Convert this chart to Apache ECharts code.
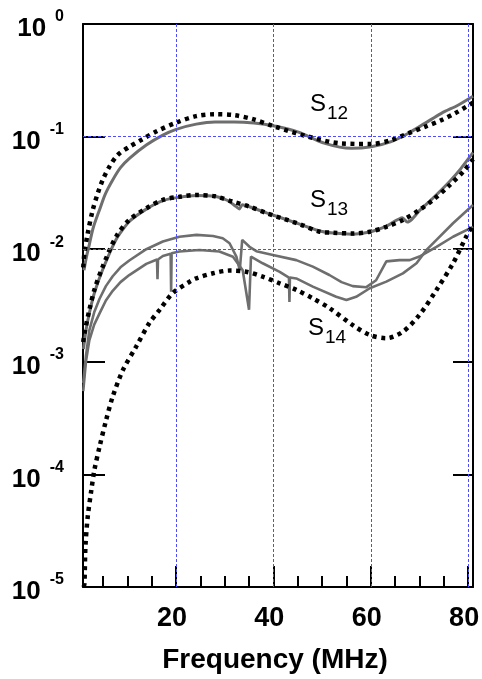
<!DOCTYPE html>
<html><head><meta charset="utf-8">
<script src="https://cdn.jsdelivr.net/npm/echarts@6/dist/echarts.min.js"></script>
<style>html,body{margin:0;padding:0;background:#fff}#c{width:482px;height:679px}</style>
</head><body><div id="c"></div>
<script>
// ---- data (frequency in MHz, magnitude) ----
const xTickLabels = [20, 40, 60, 80];
const xMinorTicks = [5, 10, 15, 20, 25, 30, 35, 40, 45, 50, 55, 60, 65, 70, 75, 80];
const yDecades = [1, 0.1, 0.01, 0.001, 0.0001, 0.00001];

const s12Theory = [[0.95,6.9e-3],[1.19,9.2e-3],[1.87,1.38e-2],[2.9,2.23e-2],[3.93,3.13e-2],[4.95,4.12e-2],[6.33,5.41e-2],[8.04,6.87e-2],[10.44,8.13e-2],[12.85,9.33e-2],[15.93,0.111],[20.04,0.133],[24.15,0.152],[28,0.158],[32,0.155],[36,0.142],[40.2,0.123],[47.1,0.100],[54,0.087],[60.1,0.086],[64.2,0.093],[67.7,0.107],[71.1,0.122],[74.5,0.140],[77.3,0.161],[79.7,0.185],[81,0.200]];
const s12Meas = [[1.1,6.5e-3],[1.6,8.5e-3],[2.2,1.1e-2],[3.0,1.55e-2],[4.28,2.23e-2],[5.5,3.1e-2],[7.0,4.12e-2],[8.6,5.3e-2],[10.44,6.41e-2],[13.9,8.41e-2],[17.3,0.103],[20.04,0.116],[24.15,0.129],[28,0.135],[32,0.135],[36,0.132],[40.2,0.124],[45,0.110],[50.6,0.087],[56,0.0787],[60.1,0.0813],[64.2,0.0902],[67.7,0.107],[71.1,0.131],[74.5,0.161],[78,0.191],[81,0.228]];

const s13Theory = [[0.95,1.5e-3],[1.2,1.79e-3],[2.2,2.88e-3],[3.25,4.37e-3],[4.95,7.0e-3],[7.7,1.29e-2],[10.4,1.82e-2],[13.9,2.31e-2],[17.3,2.74e-2],[20.7,2.92e-2],[24.2,3.03e-2],[28,2.95e-2],[31.7,2.64e-2],[35.1,2.39e-2],[38.6,2.09e-2],[45.4,1.67e-2],[49.5,1.43e-2],[52.3,1.40e-2],[56.3,1.38e-2],[59.8,1.43e-2],[63.2,1.58e-2],[66.6,1.82e-2],[70,2.23e-2],[72.8,2.74e-2],[76.2,3.7e-2],[79.3,5.05e-2],[81,6.3e-2]];
const s13Meas = [[1.0,1.3e-3],[1.5,1.9e-3],[2.2,2.7e-3],[3.25,4.1e-3],[4.95,6.6e-3],[7.7,1.22e-2],[10.4,1.76e-2],[13.9,2.27e-2],[17.3,2.7e-2],[20.7,2.9e-2],[24.2,3.0e-2],[28,2.95e-2],[30.5,2.72e-2],[32.3,2.4e-2],[33.0,2.28e-2],[33.6,2.48e-2],[35.1,2.38e-2],[38.6,2.1e-2],[45.4,1.67e-2],[49.5,1.45e-2],[52.3,1.39e-2],[56.3,1.36e-2],[59.8,1.42e-2],[63.2,1.6e-2],[66.5,1.9e-2],[67.5,1.74e-2],[68.5,1.85e-2],[70,2.2e-2],[72.8,2.85e-2],[76.2,4.0e-2],[78.5,5.2e-2],[81,7.2e-2]];

const s14Theory = [[1.05,1.0e-5],[1.2,1.08e-5],[1.4,2.29e-5],[1.87,4.2e-5],[2.6,7.2e-5],[3.25,1.1e-4],[4.3,1.76e-4],[5.65,3.04e-4],[7.0,4.9e-4],[9.1,8.45e-4],[11.8,1.36e-3],[14.5,2.2e-3],[16.6,2.88e-3],[19.3,4.06e-3],[22.8,5.14e-3],[24.2,5.52e-3],[27.6,6.11e-3],[31,6.46e-3],[34.4,6.31e-3],[37.8,5.7e-3],[41.3,4.98e-3],[44.7,4.35e-3],[48.1,3.66e-3],[51.5,3.0e-3],[56.3,2.12e-3],[59.8,1.73e-3],[63.2,1.62e-3],[66.6,1.85e-3],[70.0,2.61e-3],[73.5,4.35e-3],[76.9,7.5e-3],[79.6,1.29e-2],[81,1.66e-2]];
const s14MeasA = [[0.95,6.5e-4],[1.5,1.12e-3],[2.2,1.9e-3],[3.2,2.75e-3],[4.3,3.63e-3],[5.6,4.7e-3],[7.0,5.75e-3],[8.6,6.9e-3],[10.4,7.94e-3],[13.9,1.0e-2],[17.3,1.17e-2],[20.7,1.29e-2],[24.2,1.34e-2],[27.6,1.31e-2],[29.6,1.25e-2],[31.0,1.13e-2],[32.4,8.6e-3],[33.1,6.5e-3],[33.6,1.21e-2],[35.1,1.05e-2],[36.5,9.6e-3],[39.9,8.9e-3],[44.7,8.0e-3],[48.1,7.0e-3],[51.5,5.9e-3],[54,5.1e-3],[56.3,4.7e-3],[59.1,4.6e-3],[61.1,5.3e-3],[63.2,7.8e-3],[65.9,8.0e-3],[68.0,8.0e-3],[70.0,8.6e-3],[73.5,1.05e-2],[76.9,1.29e-2],[81,1.58e-2]];
const s14MeasB = [[0.95,5.5e-4],[1.5,1.0e-3],[2.2,1.55e-3],[3.2,2.14e-3],[4.3,2.69e-3],[5.6,3.5e-3],[7.0,4.27e-3],[8.6,5.1e-3],[10.4,5.89e-3],[13.9,7.41e-3],[16.1,8.1e-3],[16.2,5.4e-3],[16.3,8.1e-3],[17.3,8.7e-3],[18.9,9.1e-3],[19.0,4.2e-3],[19.1,9.2e-3],[20.7,9.55e-3],[24.8,9.84e-3],[28.9,9.55e-3],[31.7,8.57e-3],[33.7,6.5e-3],[35.0,2.9e-3],[35.4,8.6e-3],[37.8,7.5e-3],[41.3,6.3e-3],[43.2,5.6e-3],[43.3,3.4e-3],[43.4,5.6e-3],[44.7,5.5e-3],[48.1,4.65e-3],[52.9,3.78e-3],[55.0,3.54e-3],[57.0,3.78e-3],[59.8,4.5e-3],[63.2,5.15e-3],[66.6,6.1e-3],[69.4,7.5e-3],[71.4,9.8e-3],[73.5,1.21e-2],[76.9,1.7e-2],[81,2.47e-2]];

const curveLabels = [
  {main: 'S', sub: '12', x: 310, y: 104},
  {main: 'S', sub: '13', x: 310, y: 200},
  {main: 'S', sub: '14', x: 308, y: 328}
];

// ---- chart ----
const FONT = '"Liberation Sans", Arial, Helvetica, sans-serif';
const chart = echarts.init(document.getElementById('c'), null, {renderer: 'canvas'});
const black = {color: '#000', width: 2};
const gridLineStyle = {color: '#4d4dff', width: 1, type: [3, 2]};
const dotted = {color: '#000', width: 4.5, type: [4, 4.5]};
const gray = '#6e6e6e';

function lineSeries(name, data, style, z, smooth) {
  return {name, type: 'line', data, showSymbol: false, symbol: 'none', z, smooth: smooth,
    lineStyle: style, silent: true, xAxisIndex: 0, yAxisIndex: 0};
}

const graphics = [];
curveLabels.forEach(l => {
  graphics.push({type: 'text', x: l.x, y: l.y, z: 100,
    style: {text: l.main, font: '24px ' + FONT, fill: '#000', align: 'left', verticalAlign: 'middle'}});
  graphics.push({type: 'text', x: l.x + 17, y: l.y + 10, z: 100,
    style: {text: l.sub, font: '19px ' + FONT, fill: '#000', align: 'left', verticalAlign: 'middle'}});
});

chart.setOption({
  animation: false,
  backgroundColor: '#fff',
  grid: {left: 83, right: 9, top: 24, bottom: 92, containLabel: false, outerBoundsMode: 'none'},
  xAxis: [
    {type: 'value', min: 0.9, max: 81, position: 'bottom',
     axisLine: {show: true, lineStyle: black},
     axisTick: {show: true, inside: true, length: 11, customValues: xMinorTicks, lineStyle: black},
     axisLabel: {show: true, customValues: xTickLabels, fontSize: 27, fontWeight: 'bold', color: '#000',
       fontFamily: FONT, margin: 18, padding: [0, 8, 0, 0]},
     splitLine: {show: false},
     name: 'Frequency (MHz)', nameLocation: 'middle', nameGap: 59,
     nameTextStyle: {fontSize: 28, fontWeight: 'bold', color: '#000', fontFamily: FONT, padding: [0, 6, 0, 0]}},
    {type: 'value', min: 0.9, max: 81, position: 'bottom',
     axisLine: {show: false},
     axisTick: {show: true, inside: true, length: 21, customValues: xTickLabels, lineStyle: black},
     axisLabel: {show: false}, splitLine: {show: false}},
    {type: 'value', min: 0.9, max: 81, position: 'top',
     axisLine: {show: true, lineStyle: black}, axisTick: {show: false},
     axisLabel: {show: false}, splitLine: {show: false}}
  ],
  yAxis: [
    {type: 'log', logBase: 10, min: 1e-5, max: 1, position: 'left',
     axisLine: {show: true, lineStyle: black},
     axisTick: {show: true, inside: true, length: 22, lineStyle: black},
     minorTick: {show: false}, splitLine: {show: false},
     axisLabel: {show: true, margin: 19, color: '#000',
       formatter: v => '{b|10}{s|' + Math.round(Math.log10(v)) + '}',
       rich: {
         b: {fontSize: 26, fontWeight: 'bold', fontFamily: FONT, color: '#000', lineHeight: 36, verticalAlign: 'bottom'},
         s: {fontSize: 16, fontWeight: 'bold', fontFamily: FONT, color: '#000', verticalAlign: 'top', padding: [3, 0, 0, 9]}
       }}},
    {type: 'log', logBase: 10, min: 1e-5, max: 1, position: 'right',
     axisLine: {show: true, lineStyle: black},
     axisTick: {show: true, inside: true, length: 20, lineStyle: black},
     minorTick: {show: false}, splitLine: {show: false}, axisLabel: {show: false}}
  ],
  series: [
    {type: 'line', data: [[1, 1e-5]], symbol: 'none', showSymbol: false, lineStyle: {opacity: 0}, z: 1, silent: true,
     markLine: {silent: true, symbol: ['none', 'none'], label: {show: false}, lineStyle: gridLineStyle, animation: false,
       data: xTickLabels.map(v => ({xAxis: v})).concat(yDecades.slice(1, 5).map(v => ({yAxis: v})))}},
    lineSeries('S12 meas', s12Meas, {color: gray, width: 3}, 3, 0.3),
    lineSeries('S13 meas', s13Meas, {color: gray, width: 3}, 3, 0.2),
    lineSeries('S14 meas A', s14MeasA, {color: gray, width: 2.6}, 3, false),
    lineSeries('S14 meas B', s14MeasB, {color: gray, width: 2.6}, 3, false),
    lineSeries('S12 theory', s12Theory, dotted, 4, 0.3),
    lineSeries('S13 theory', s13Theory, dotted, 4, 0.3),
    lineSeries('S14 theory', s14Theory, dotted, 4, 0.3)
  ],
  graphic: graphics
});
</script>
</body></html>
